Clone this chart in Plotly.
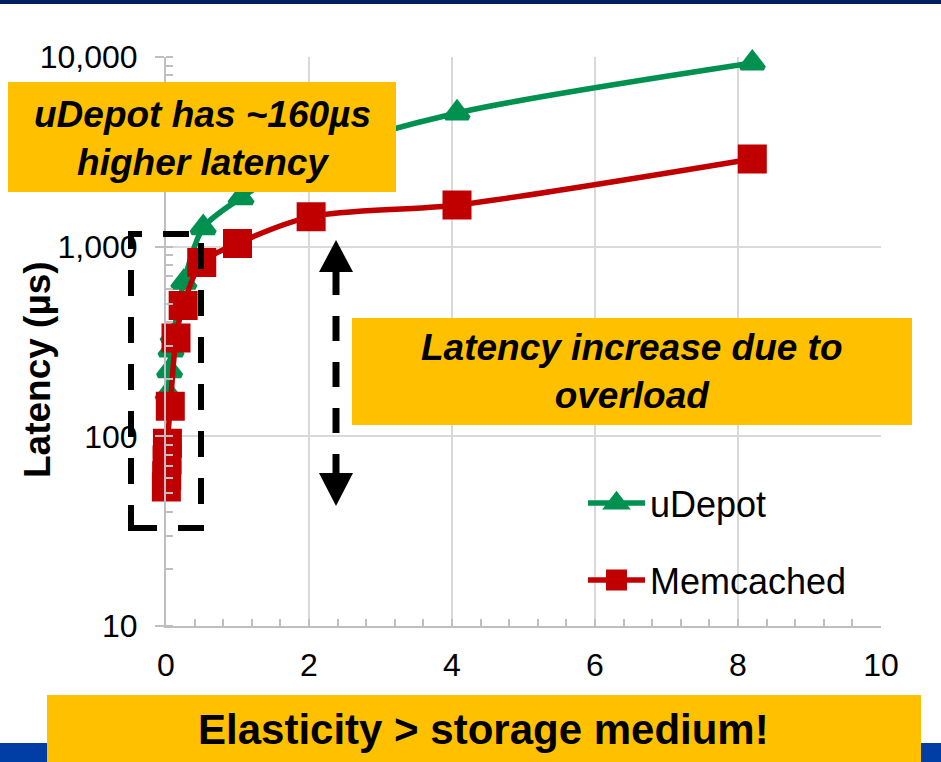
import plotly.graph_objects as go

# ---------------- data ----------------
udepot_x = [0.03, 0.05, 0.07, 0.10, 0.25, 0.52, 1.05, 2.0, 4.07, 8.2]
udepot_y = [168, 222, 285, 340, 650, 1260, 1810, 3000, 5070, 9300]

memc_x = [0.005, 0.01, 0.015, 0.02, 0.06, 0.14, 0.24, 0.50, 1.0, 2.03, 4.07, 8.2]
memc_y = [54, 62, 75, 92, 144, 330, 490, 825, 1040, 1440, 1660, 2900]

x_ticks = [0, 2, 4, 6, 8, 10]
x_tick_labels = ["0", "2", "4", "6", "8", "10"]
y_ticks = [10, 100, 1000, 10000]
y_tick_labels = ["10", "100", "1,000", "10,000"]

# ---------------- layout helpers (pixel -> paper) ----------------
W, H = 941, 762
L, R, T, B = 166, 881, 57, 626


def px(x):
    return (x - L) / (R - L)


def py(y):
    return (B - y) / (B - T)


FONT = "Liberation Sans, Arial, sans-serif"
GREEN = "#00904F"
RED = "#C00000"
ORANGE = "#FFC000"

fig = go.Figure()
fig.add_trace(go.Scatter(
    x=udepot_x, y=udepot_y, name="uDepot", mode="lines+markers",
    line=dict(color=GREEN, width=5.5, shape="spline", smoothing=0.8),
    marker=dict(symbol="triangle-up", size=20, color=GREEN,
                line=dict(color=GREEN, width=5)),
    cliponaxis=False, legend="legend", showlegend=True,
))
fig.add_trace(go.Scatter(
    x=memc_x, y=memc_y, name="Memcached", mode="lines+markers",
    line=dict(color=RED, width=5.5, shape="spline", smoothing=0.8),
    marker=dict(symbol="square", size=24, color=RED,
                line=dict(color=RED, width=5)),
    cliponaxis=False, legend="legend2", showlegend=True,
))

shapes = []
# top navy band and bottom blue band
shapes.append(dict(type="rect", xref="paper", yref="paper", layer="above",
                   x0=px(0), x1=px(W), y0=py(0), y1=py(4),
                   fillcolor="#002060", line=dict(width=0)))
shapes.append(dict(type="rect", xref="paper", yref="paper", layer="above",
                   x0=px(0), x1=px(W), y0=py(743), y1=py(H),
                   fillcolor="#003DA5", line=dict(width=0)))
# orange boxes
for (x0, x1, y0, y1) in [(47, 921, 695, H), (8, 396, 82, 192), (352, 912, 318, 425)]:
    shapes.append(dict(type="rect", xref="paper", yref="paper", layer="above",
                       x0=px(x0), x1=px(x1), y0=py(y1), y1=py(y0),
                       fillcolor=ORANGE, line=dict(width=0)))
# dashed rectangle around low-load region
shapes.append(dict(type="rect", xref="paper", yref="paper", layer="above",
                   x0=px(131), x1=px(201), y0=py(528), y1=py(234),
                   line=dict(color="black", width=6, dash="26px,21px")))
# dashed double arrow
shapes.append(dict(type="line", xref="paper", yref="paper", layer="above",
                   x0=px(336), x1=px(336), y0=py(270), y1=py(475),
                   line=dict(color="black", width=7, dash="25px,21px")))


def tri(p1, p2, p3):
    return "M{},{} L{},{} L{},{} Z".format(px(p1[0]), py(p1[1]), px(p2[0]), py(p2[1]),
                                          px(p3[0]), py(p3[1]))


shapes.append(dict(type="path", xref="paper", yref="paper", layer="above",
                   path=tri((336, 240), (319, 272), (353, 272)),
                   fillcolor="black", line=dict(width=0)))
shapes.append(dict(type="path", xref="paper", yref="paper", layer="above",
                   path=tri((336, 506), (319, 473), (353, 473)),
                   fillcolor="black", line=dict(width=0)))

annotations = [
    dict(xref="paper", yref="paper", x=px(202), y=py(139), showarrow=False,
         xanchor="center", yanchor="middle",
         text="<b><i>uDepot has ~160µs<br>higher latency</i></b>",
         font=dict(family=FONT, size=37, color="black"), align="center"),
    dict(xref="paper", yref="paper", x=px(632), y=py(371), showarrow=False,
         xanchor="center", yanchor="middle",
         text="<b><i>Latency increase due to<br>overload</i></b>",
         font=dict(family=FONT, size=37, color="black"), align="center"),
    dict(xref="paper", yref="paper", x=px(483), y=py(729), showarrow=False,
         xanchor="center", yanchor="middle",
         text="<b>Elasticity > storage medium!</b>",
         font=dict(family=FONT, size=42, color="black"), align="center"),
    dict(xref="paper", yref="paper", x=px(37), y=py(370), showarrow=False,
         xanchor="center", yanchor="middle",
         text="<b>Latency (µs)</b>", textangle=-90,
         font=dict(family=FONT, size=37, color="black")),
]

fig.update_layout(
    width=W, height=H, autosize=False, showlegend=True,
    margin=dict(l=L, r=W - R, t=T, b=H - B, pad=0),
    paper_bgcolor="white", plot_bgcolor="white",
    font=dict(family=FONT, color="black"),
    shapes=shapes, annotations=annotations,
    legend=dict(x=px(583), y=py(503), xanchor="left", yanchor="middle",
                font=dict(family=FONT, size=36, color="black"),
                bgcolor="rgba(0,0,0,0)", itemwidth=57, visible=True),
    legend2=dict(x=px(583), y=py(580), xanchor="left", yanchor="middle",
                 font=dict(family=FONT, size=36, color="black"),
                 bgcolor="rgba(0,0,0,0)", itemwidth=57, visible=True),
    xaxis=dict(range=[0, 10], tickvals=x_ticks, ticktext=x_tick_labels,
               showgrid=True, gridcolor="#D9D9D9", gridwidth=2,
               showline=True, linecolor="#BFBFBF", linewidth=2,
               ticks="inside", ticklen=7, tickcolor="#BFBFBF", tickwidth=2,
               minor=dict(dtick=0.4, tick0=0, ticks="inside", ticklen=7,
                          tickcolor="#BFBFBF", tickwidth=2, showgrid=False),
               tickfont=dict(family=FONT, size=32, color="black"),
               ticklabelstandoff=10, zeroline=False),
    yaxis=dict(type="log", range=[1, 4], tickvals=y_ticks, ticktext=y_tick_labels,
               showgrid=True, gridcolor="#D9D9D9", gridwidth=2,
               showline=True, linecolor="#BFBFBF", linewidth=2,
               ticks="outside", ticklen=9, tickcolor="#BFBFBF", tickwidth=2,
               minor=dict(dtick="D1", ticks="inside", ticklen=7,
                          tickcolor="#BFBFBF", tickwidth=2, showgrid=False),
               tickfont=dict(family=FONT, size=32, color="black"),
               ticklabelstandoff=11, zeroline=False),
)

fig.write_html("out.html", config={"displayModeBar": False},
               post_script="document.body.style.margin='0';")
